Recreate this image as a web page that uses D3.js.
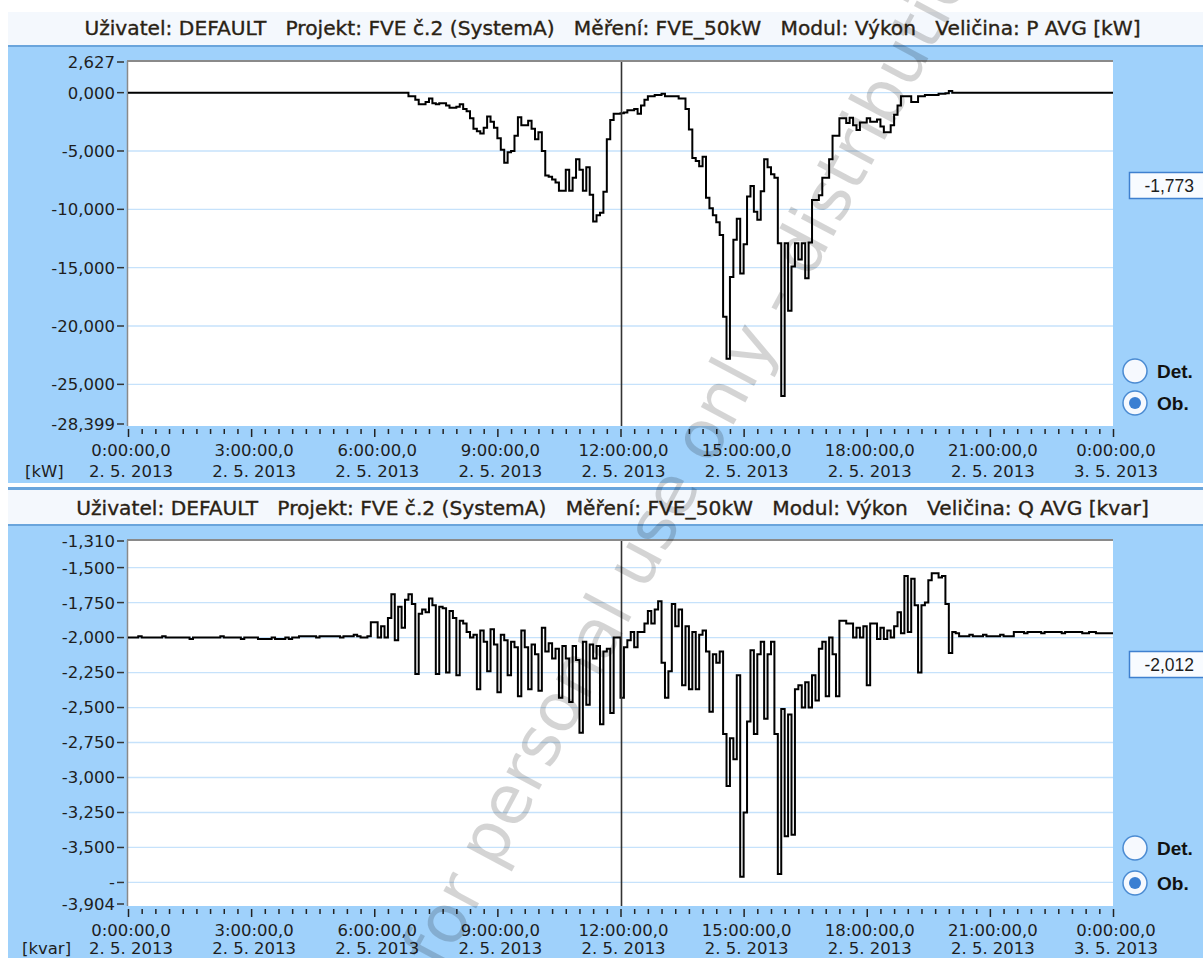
<html>
<head>
<title>FVE č.2 | D3</title>
<script src="https://d3js.org/d3.v7.min.js" charset="utf-8"></script>
<style>
  body { margin: 0; background: #fff; }
  svg { display: block; font-family: "DejaVu Sans", sans-serif; }
</style>
</head>
<body>
<script>
var width = 1203;
var height = 958;

// time axis (minutes from 0:00, 2. 5. 2013)
var hourTicks = [0, 180, 360, 540, 720, 900, 1080, 1260, 1440];
var hourLabels = ["0:00:00,0", "3:00:00,0", "6:00:00,0", "9:00:00,0", "12:00:00,0",
                  "15:00:00,0", "18:00:00,0", "21:00:00,0", "0:00:00,0"];
var dateLabels = ["2. 5. 2013", "2. 5. 2013", "2. 5. 2013", "2. 5. 2013", "2. 5. 2013",
                  "2. 5. 2013", "2. 5. 2013", "2. 5. 2013", "3. 5. 2013"];
var stepMin = 5;
var cursorMin = 720;

var titleParts = ["Uživatel: DEFAULT", "Projekt: FVE č.2 (SystemA)", "Měření: FVE_50kW", "Modul: Výkon"];

// P AVG [kW]
var pTitle = "Veličina: P AVG [kW]";
var pUnit = "[kW]";
var pMin = -28.399, pMax = 2.627;
var pTicks = [2.627, 0, -5, -10, -15, -20, -25, -28.399];
var pTickLabels = ["2,627", "0,000", "-5,000", "-10,000", "-15,000", "-20,000", "-25,000", "-28,399"];
var pGrid = [0, -5, -10, -15, -20, -25];
var pCursorText = "-1,773";
var pStart = 405; // 6:45, flat 0 before and after
var pValues = [
  0, -0.3, -0.3, -0.6, -1.0, -1.0, -0.8, -0.5, -0.9, -1.0,
  -0.9, -0.9, -1.1, -1.3, -1.3, -1.2, -1.0, -1.4, -1.6, -2.2,
  -3.1, -3.3, -3.5, -3.0, -2.05, -2.5, -3.0, -3.9, -4.9, -6.0,
  -5.1, -5.0, -3.7, -2.1, -2.8, -2.8, -2.4, -3.1, -4.0, -3.4,
  -5.0, -7.1, -7.2, -7.45, -7.7, -8.4, -8.4, -6.6, -8.4, -7.3,
  -5.7, -6.6, -8.4, -6.4, -8.75, -11.05, -10.5, -10.3, -8.5, -4.0,
  -2.35, -1.8, -1.8, -1.77, -1.7, -1.5, -1.5, -1.4, -1.8, -1.1,
  -0.6, -0.3, -0.3, -0.2, -0.2, -0.1, -0.3, -0.3, -0.3, -0.3,
  -0.5, -0.5, -1.4, -3.15, -5.6, -5.85, -6.3, -5.5, -9.0, -9.9,
  -10.5, -11.1, -12.2, -19.2, -22.8, -15.8, -12.6, -10.8, -15.5, -13.0,
  -8.9, -8.0, -10.2, -10.9, -8.45, -5.7, -6.4, -7.0, -7.3, -12.9,
  -26.0, -12.9, -18.7, -14.9, -12.9, -14.3, -12.9, -15.9, -12.85, -9.2,
  -9.2, -8.8, -7.3, -7.3, -5.7, -3.7, -3.7, -2.2, -2.2, -2.6,
  -2.15, -2.8, -3.2, -2.55, -2.55, -2.2, -2.5, -2.5, -2.3, -2.9,
  -3.4, -3.4, -2.8, -1.9, -1.1, -0.3, -0.3, -0.3, -0.8, -0.8,
  -0.3, -0.3, -0.2, -0.2, -0.2, -0.2, -0.1, -0.1, -0.05, 0.15,
  0
];

// Q AVG [kvar]
var qTitle = "Veličina: Q AVG [kvar]";
var qUnit = "[kvar]";
var qMin = -3.904, qMax = -1.31;
var qTicks = [-1.31, -1.5, -1.75, -2.0, -2.25, -2.5, -2.75, -3.0, -3.25, -3.5, -3.75, -3.904];
var qTickLabels = ["-1,310", "-1,500", "-1,750", "-2,000", "-2,250", "-2,500", "-2,750",
                   "-3,000", "-3,250", "-3,500", "-", "-3,904"];
var qGrid = [-1.5, -1.75, -2.0, -2.25, -2.5, -2.75, -3.0, -3.25, -3.5, -3.75];
var qCursorText = "-2,012";
var qStart = 0;
var qValues = [
  // 0:00 - 5:40
  -2.00, -2.00, -2.00, -1.99, -2.00, -2.00, -2.00, -2.00, -2.00, -2.00, -1.99, -2.00,
  -2.00, -2.00, -2.00, -2.00, -2.00, -2.00, -2.01, -2.00, -2.00, -2.00, -2.00, -2.00,
  -2.00, -2.00, -2.00, -1.99, -2.00, -2.00, -2.00, -2.00, -2.00, -2.01, -2.00, -2.00,
  -2.00, -2.00, -2.01, -2.01, -2.01, -2.01, -2.00, -2.01, -2.01, -2.01, -2.00, -2.01,
  -2.00, -2.00, -1.99, -1.99, -1.99, -1.99, -1.99, -2.00, -1.99, -1.99, -1.99, -1.99,
  -1.99, -1.99, -2.00, -1.99, -1.99, -1.99, -1.98, -1.99, -2.00,
  // 5:45 - 20:15
  -2.00, -1.99, -1.89, -1.89, -2.00, -1.92, -2.00, -1.86, -1.69, -2.02,
  -1.78, -1.93, -1.73, -1.69, -1.76, -2.26, -1.83, -1.80, -1.82, -1.72,
  -1.77, -2.26, -1.78, -1.79, -2.25, -1.81, -1.86, -2.27, -1.88, -1.90,
  -1.96, -2.00, -1.98, -2.37, -1.95, -2.03, -2.24, -1.94, -2.05, -2.39,
  -1.98, -2.02, -2.27, -2.03, -2.07, -2.42, -1.95, -2.07, -2.37, -2.05,
  -2.12, -2.38, -1.93, -2.10, -2.04, -2.15, -2.08, -2.43, -2.06, -2.15,
  -2.46, -2.06, -2.16, -2.68, -2.03, -2.48, -2.05, -2.15, -2.06, -2.62,
  -2.10, -2.08, -2.54, -2.00, -2.00, -2.43, -2.07, -2.02, -1.96, -2.07,
  -1.96, -1.96, -1.90, -1.81, -1.90, -1.80, -1.74, -2.18, -2.43, -2.24,
  -1.76, -1.92, -1.80, -2.34, -1.92, -2.37, -1.96, -2.37, -1.98, -1.95,
  -2.10, -2.53, -2.12, -2.18, -2.10, -2.69, -3.06, -2.72, -2.87, -2.27,
  -3.71, -3.25, -2.60, -2.09, -2.69, -2.12, -2.03, -2.58, -2.12, -2.03,
  -2.69, -3.69, -2.51, -3.42, -2.55, -3.41, -2.37, -2.34, -2.50, -2.32,
  -2.50, -2.27, -2.45, -2.08, -2.03, -2.42, -2.00, -2.12, -2.42, -1.88,
  -1.88, -1.90, -1.90, -2.00, -1.93, -2.00, -1.92, -2.34, -1.90, -1.90,
  -2.01, -1.93, -2.01, -1.95, -2.00, -1.92, -1.82, -1.97, -1.56, -1.96,
  -1.58, -1.77, -2.25, -1.77, -1.75, -1.59, -1.54, -1.54, -1.57, -1.56,
  -1.76, -2.11, -1.96, -1.97, -1.99,
  // 20:20 - 23:55
  -1.99, -1.99, -1.98, -1.99, -1.99, -1.99, -1.98, -1.99, -1.99, -1.99,
  -1.99, -1.98, -1.99, -1.99, -1.99,
  -1.96, -1.96, -1.96, -1.97, -1.96, -1.96, -1.96, -1.96, -1.97, -1.96,
  -1.96, -1.96, -1.96, -1.96, -1.97, -1.96, -1.96, -1.96, -1.96, -1.96,
  -1.97, -1.97, -1.96, -1.96, -1.97, -1.97, -1.97, -1.97, -1.97
];

var svg = d3.select("body")
  .append("svg")
  .attr("width", width)
  .attr("height", height);

var x = d3.scaleLinear().domain([0, 1440]).range([128, 1113]);

function drawPanel(cfg) {
  var g = svg.append("g");
  var plotL = 128, plotR = 1113;

  if (cfg.topLine != null) {
    g.append("rect").attr("x", 8).attr("y", cfg.topLine).attr("width", width - 8).attr("height", 3).attr("fill", "#6aa5dc");
  }
  g.append("rect").attr("x", 8).attr("y", cfg.barTop).attr("width", width - 8)
    .attr("height", cfg.barBottom - cfg.barTop).attr("fill", "#f4f8fd");
  g.append("rect").attr("x", 8).attr("y", cfg.barBottom).attr("width", width - 8).attr("height", 2).attr("fill", "#6aa5dc");
  g.append("rect").attr("x", 8).attr("y", cfg.barBottom + 2).attr("width", width - 8)
    .attr("height", cfg.areaBottom - cfg.barBottom - 2).attr("fill", "#9fd1fb");

  g.append("text")
    .attr("x", 612.5).attr("y", cfg.titleY)
    .attr("text-anchor", "middle")
    .style("white-space", "pre")
    .attr("font-size", "20.2px")
    .attr("fill", "#2a2214")
    .attr("stroke", "#2a2214").attr("stroke-width", 0.35)
    .text(titleParts.concat([cfg.title]).join("   "));

  var y = d3.scaleLinear().domain([cfg.max, cfg.min]).range([cfg.plotTop + 1, cfg.plotBottom - 2]);

  g.append("rect").attr("x", plotL).attr("y", cfg.plotTop)
    .attr("width", plotR - plotL).attr("height", cfg.plotBottom - cfg.plotTop).attr("fill", "#fff");

  g.selectAll(".grid").data(cfg.grid).enter().append("line")
    .attr("x1", plotL).attr("x2", plotR)
    .attr("y1", function(d) { return y(d); }).attr("y2", function(d) { return y(d); })
    .attr("stroke", "#c6e2fb").attr("stroke-width", 1.3);

  // sunken frame, top and left
  g.append("line").attr("x1", plotL - 1).attr("x2", plotR).attr("y1", cfg.plotTop).attr("y2", cfg.plotTop)
    .attr("stroke", "#8a8a8a").attr("stroke-width", 2);
  g.append("line").attr("x1", plotL - 0.5).attr("x2", plotL - 0.5).attr("y1", cfg.plotTop).attr("y2", cfg.plotBottom)
    .attr("stroke", "#8a8a8a").attr("stroke-width", 1.5);

  // y axis
  g.selectAll(".ytick").data(cfg.ticks).enter().append("line")
    .attr("x1", 117).attr("x2", 124)
    .attr("y1", function(d) { return y(d); }).attr("y2", function(d) { return y(d); })
    .attr("stroke", "#333").attr("stroke-width", 1.5);
  g.selectAll(".ylab").data(cfg.ticks).enter().append("text")
    .attr("x", 115).attr("y", function(d) { return y(d); })
    .attr("dy", "0.36em")
    .attr("text-anchor", "end")
    .attr("font-size", "16.5px").attr("fill", "#1e1e1e")
    .text(function(d, i) { return cfg.tickLabels[i]; });

  // x axis
  var xAxis = d3.axisBottom(x).tickValues(d3.range(0, 1441, 20)).tickSize(5).tickFormat("");
  var ax = g.append("g").attr("transform", "translate(0," + (cfg.plotBottom + 3) + ")").call(xAxis);
  ax.select(".domain").remove();
  ax.selectAll(".tick line").attr("stroke", "#222").attr("stroke-width", 1.5)
    .attr("y2", function(d) { return d % 180 === 0 ? 8 : 5; });

  var lab = g.selectAll(".xlab").data(hourTicks).enter().append("text")
    .attr("text-anchor", "middle")
    .attr("font-size", "16.5px").attr("fill", "#1e1e1e");
  lab.append("tspan")
    .attr("x", function(d) { return x(d) + 3; }).attr("y", cfg.plotBottom + 30)
    .text(function(d, i) { return hourLabels[i]; });
  lab.append("tspan")
    .attr("x", function(d) { return x(d) + 3; }).attr("y", cfg.plotBottom + cfg.dateDy)
    .text(function(d, i) { return dateLabels[i]; });
  g.append("text").attr("x", cfg.unitX).attr("y", cfg.plotBottom + cfg.dateDy)
    .attr("font-size", "16.5px").attr("fill", "#1e1e1e").text(cfg.unit);

  // data
  var clipId = "clip" + cfg.id;
  svg.append("clipPath").attr("id", clipId).append("rect")
    .attr("x", plotL).attr("y", cfg.plotTop + 1).attr("width", plotR - plotL).attr("height", cfg.plotBottom - cfg.plotTop);

  var pts = cfg.values.map(function(v, i) { return [cfg.start + i * stepMin, v]; });
  if (cfg.start > 0) pts.unshift([0, cfg.values[0]]);
  pts.push([1440, cfg.values[cfg.values.length - 1]]);

  var line = d3.line()
    .x(function(d) { return x(d[0]); })
    .y(function(d) { return y(d[1]); })
    .curve(d3.curveStepAfter);

  g.append("path").datum(pts)
    .attr("clip-path", "url(#" + clipId + ")")
    .attr("d", line)
    .attr("fill", "none")
    .attr("stroke", "#000")
    .attr("stroke-width", 2);

  // cursor
  g.append("line").attr("x1", x(cursorMin) + 1).attr("x2", x(cursorMin) + 1)
    .attr("y1", cfg.plotTop + 1).attr("y2", cfg.plotBottom)
    .attr("stroke", "#333").attr("stroke-width", 1.6);

  // value box
  g.append("rect").attr("x", 1129.5).attr("y", cfg.plotTop + 111.5).attr("width", 90).attr("height", 26)
    .attr("fill", "#f8fbff").attr("stroke", "#3f80cf").attr("stroke-width", 1.5);
  g.append("text").attr("x", 1194).attr("y", cfg.plotTop + 130.5)
    .attr("text-anchor", "end")
    .attr("font-family", "Liberation Sans, sans-serif")
    .attr("font-size", "17.5px").attr("fill", "#1e1e1e").text(cfg.cursorText);

  // radio buttons
  var radios = [{label: "Det.", dy: cfg.detOffset, on: false}, {label: "Ob.", dy: 23, on: true}];
  radios.forEach(function(r) {
    var cy = cfg.plotBottom - r.dy;
    g.append("circle").attr("cx", 1135).attr("cy", cy).attr("r", 12)
      .attr("fill", "#f6f9fe").attr("stroke", "#4b8bd2").attr("stroke-width", 1.5);
    if (r.on) {
      g.append("circle").attr("cx", 1135).attr("cy", cy).attr("r", 6).attr("fill", "#3b7fd2");
    }
    g.append("text").attr("x", 1157).attr("y", cy + 7)
      .attr("font-family", "Liberation Sans, sans-serif")
      .attr("font-weight", "bold")
      .attr("font-size", "19px").attr("fill", "#111").text(r.label);
  });
}

drawPanel({
  id: 1, topLine: null, barTop: 12, barBottom: 45, areaBottom: 483, titleY: 35,
  plotTop: 61, plotBottom: 426, dateDy: 51,
  title: pTitle, unit: pUnit, unitX: 25,
  min: pMin, max: pMax, ticks: pTicks, tickLabels: pTickLabels, grid: pGrid,
  values: pValues, start: pStart, cursorText: pCursorText, detOffset: 55
});

drawPanel({
  id: 2, topLine: 487, barTop: 490, barBottom: 524, areaBottom: 958, titleY: 515,
  plotTop: 540, plotBottom: 906, dateDy: 48,
  title: qTitle, unit: qUnit, unitX: 22,
  min: qMin, max: qMax, ticks: qTicks, tickLabels: qTickLabels, grid: qGrid,
  values: qValues, start: qStart, cursorText: qCursorText, detOffset: 58
});

// watermark
svg.append("text")
  .attr("transform", "translate(704,480) rotate(-62)")
  .attr("text-anchor", "middle")
  .attr("font-size", "68px")
  .attr("fill", "#000")
  .attr("fill-opacity", 0.17)
  .text("s for personal use only - distribution");
</script>
</body>
</html>
